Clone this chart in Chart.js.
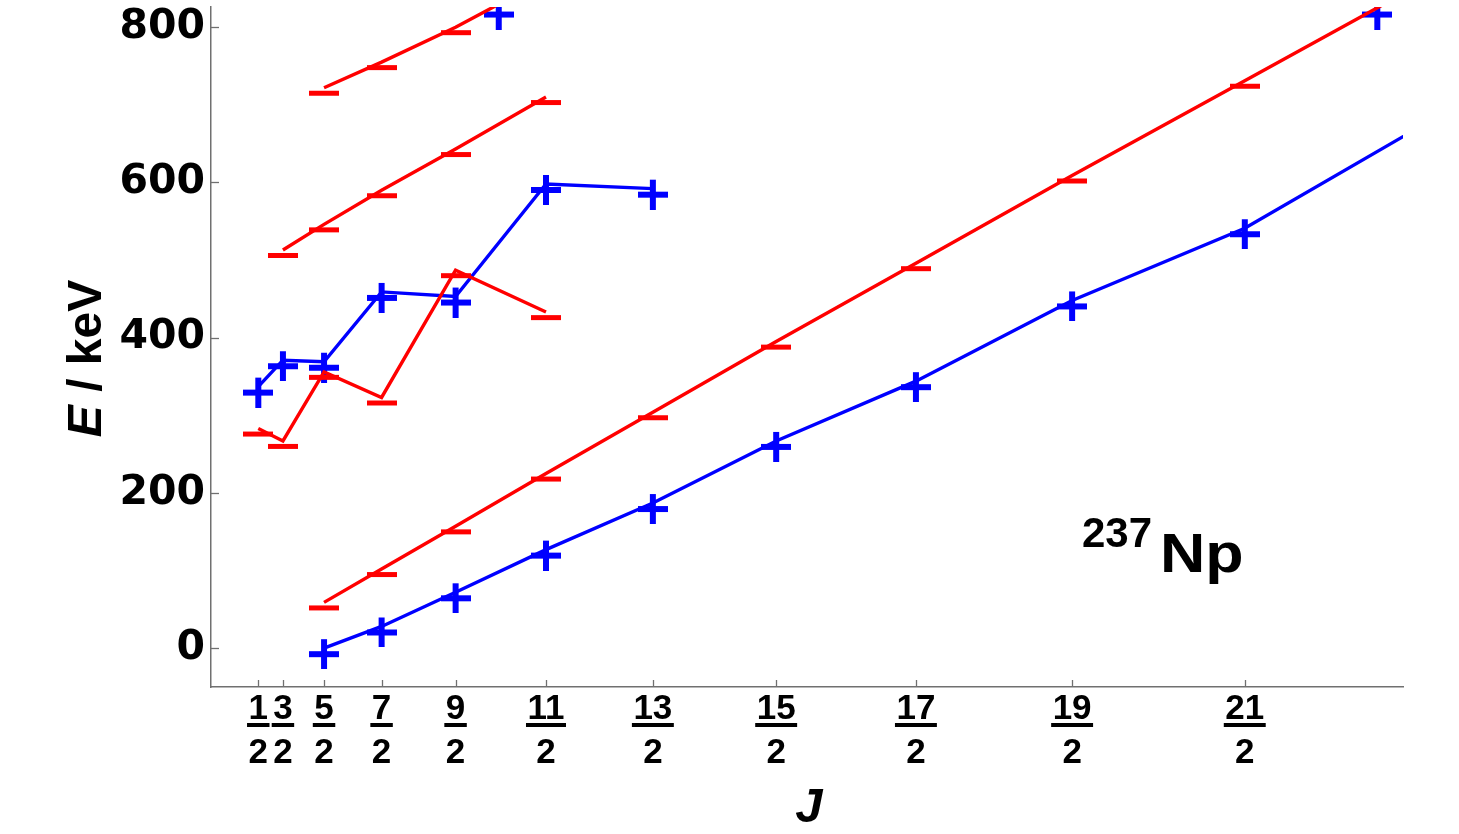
<!DOCTYPE html>
<html><head><meta charset="utf-8">
<script src="https://cdn.jsdelivr.net/npm/chart.js@4.4.1/dist/chart.umd.min.js"></script>
<style>html,body{margin:0;padding:0;background:#fff;}canvas{display:block;}</style>
</head><body>
<canvas id="c" width="1459" height="834"></canvas>
<script>
// ---------------- data (J given as 2J, energies in keV) ----------------
const xTickLabels = ['1/2','3/2','5/2','7/2','9/2','11/2','13/2','15/2','17/2','19/2','21/2'];
const yTickValues = [0, 200, 400, 600, 800];

const gsBandTwoJ   = [5, 7, 9, 11, 13, 15, 17, 19, 21, 23];
const gsBandE      = [0, 28, 72, 127, 187, 267, 344, 448, 541, 682];
const negBandTwoJ  = [5, 7, 9, 11, 13, 15, 17, 19, 21, 23];
const negBandE     = [59, 102, 157, 225, 304, 395, 496, 609, 731, 865];
const negBand2TwoJ = [3, 5, 7, 9, 11];
const negBand2E    = [513, 546, 590, 643, 710];
const negBand3TwoJ = [5, 7, 9, 11];
const negBand3E    = [722, 755, 800, 862];
const negBand4TwoJ = [1, 3, 5, 7, 9, 11];
const negBand4E    = [283, 267, 356, 323, 487, 433];
const posBand2TwoJ = [1, 3, 5, 7, 9, 11, 13];
const posBand2E    = [337, 371, 369, 459, 453, 598, 592];
const edgeMarkJ    = [5.0, 11.21];
const edgeMarkE    = [824, 824];

// ---------------- helpers ----------------
const jj = j => j * (j + 1);                       // axis variable J(J+1)
const pts = (twoJ, E) => twoJ.map((t, i) => ({x: jj(t / 2), y: E[i]}));
const tickJ = xTickLabels.map(s => { const [n, d] = s.split('/').map(Number); return n / d; });

const BLUE = '#0000ff', RED = '#ff0000';
function crossImg() {
  const c = document.createElement('canvas'); c.width = 30; c.height = 42;
  const g = c.getContext('2d'); g.fillStyle = BLUE;
  g.fillRect(0, 24, 30, 6); g.fillRect(12, 12, 6, 30);
  return c;
}
function dashImg() {
  const c = document.createElement('canvas'); c.width = 30; c.height = 22;
  const g = c.getContext('2d'); g.fillStyle = RED;
  g.fillRect(0, 14, 30, 5);
  return c;
}
const CROSS = crossImg(), DASH = dashImg();

function band(data, color, marker) {
  return {data, showLine: true, borderColor: color, backgroundColor: color, borderWidth: 3.4,
    pointStyle: marker, pointRadius: 15, pointHoverRadius: 15, clip: 0, tension: 0};
}

const datasets = [
  band(pts(negBand4TwoJ, negBand4E), RED, DASH),
  band(pts(negBand2TwoJ, negBand2E), RED, DASH),
  band(pts(negBand3TwoJ, negBand3E), RED, DASH),
  band(pts(negBandTwoJ, negBandE), RED, DASH),
  band(pts(posBand2TwoJ, posBand2E), BLUE, CROSS),
  band(pts(gsBandTwoJ, gsBandE), BLUE, CROSS),
  {data: edgeMarkJ.map((j, i) => ({x: jj(j), y: edgeMarkE[i]})), showLine: false,
   pointStyle: CROSS, pointRadius: 15, clip: 0}
];

const decor = {
  id: 'decor',
  afterDraw(chart) {
    const {ctx, chartArea: a, scales: {x, y}} = chart;
    ctx.save();
    // inward tick marks
    ctx.strokeStyle = '#707070'; ctx.lineWidth = 1.3;
    x.ticks.forEach(t => {
      const p = Math.round(x.getPixelForValue(t.value)) + 0.5;
      ctx.beginPath(); ctx.moveTo(p, a.bottom); ctx.lineTo(p, a.bottom - 7); ctx.stroke();
    });
    y.ticks.forEach(t => {
      const p = Math.round(y.getPixelForValue(t.value)) + 0.5;
      ctx.beginPath(); ctx.moveTo(a.left, p); ctx.lineTo(a.left + 8, p); ctx.stroke();
    });
    // fraction bars
    ctx.fillStyle = '#000';
    ctx.font = 'bold 35px "Liberation Sans", Arial, sans-serif';
    x.ticks.forEach((t, i) => {
      const num = xTickLabels[i].split('/')[0];
      const w = ctx.measureText(num).width + 3;
      const p = x.getPixelForValue(t.value);
      ctx.fillRect(p - w / 2, a.bottom + 36, w, 4);
    });
    // x-axis title
    ctx.font = 'italic bold 49px "Liberation Sans", Arial, sans-serif';
    ctx.textAlign = 'center'; ctx.textBaseline = 'alphabetic';
    ctx.fillText('J', (a.left + a.right) / 2 + 2, 822);
    // y-axis title (rotated)
    ctx.save();
    ctx.translate(101, 358.5); ctx.rotate(-Math.PI / 2);
    const f1 = 'italic bold 48px "Liberation Sans", Arial, sans-serif';
    const f2 = 'bold 48px "Liberation Sans", Arial, sans-serif';
    ctx.font = f1; const wE = ctx.measureText('E').width;
    ctx.font = f2; const wR = ctx.measureText(' / keV').width;
    const x0 = -(wE + wR) / 2;
    ctx.textAlign = 'left';
    ctx.font = f1; ctx.fillText('E', x0, 0);
    ctx.font = f2; ctx.fillText(' / keV', x0 + wE, 0);
    ctx.restore();
    // nucleus label
    ctx.textAlign = 'right';
    ctx.font = 'bold 42px "Liberation Sans", Arial, sans-serif';
    ctx.fillText('237', 1152, 547);
    ctx.save();
    ctx.translate(1160, 572); ctx.scale(1.12, 1);
    ctx.textAlign = 'left';
    ctx.font = 'bold 56px "Liberation Sans", Arial, sans-serif';
    ctx.fillText('Np', 0, 0);
    ctx.restore();
    ctx.restore();
  }
};

new Chart(document.getElementById('c'), {
  type: 'scatter',
  data: {datasets},
  options: {
    responsive: false, animation: false, events: [],
    layout: {autoPadding: false, padding: {top: 7, right: 56, left: 0, bottom: 0}},
    plugins: {legend: {display: false}, tooltip: {enabled: false}},
    scales: {
      x: {
        type: 'linear', min: -5, max: 140,
        afterBuildTicks: s => { s.ticks = tickJ.map(j => ({value: jj(j)})); },
        afterFit: s => { s.height = 147; s.paddingLeft = 0; s.paddingRight = 0; },
        grid: {display: true, drawOnChartArea: false, drawTicks: false},
        border: {display: true, color: '#707070', width: 1.5},
        ticks: {
          autoSkip: false, maxRotation: 0, minRotation: 0, padding: 0, color: '#000',
          font: {family: '"Liberation Sans", Arial, sans-serif', weight: 'bold', size: 35, lineHeight: 1.26},
          callback: (v, i) => xTickLabels[i].split('/')
        }
      },
      y: {
        type: 'linear', min: -50, max: 826,
        afterBuildTicks: s => { s.ticks = yTickValues.map(v => ({value: v})); },
        afterFit: s => { s.width = 211; s.paddingTop = 0; s.paddingBottom = 0; },
        grid: {display: true, drawOnChartArea: false, drawTicks: false},
        border: {display: true, color: '#707070', width: 1.5},
        ticks: {
          padding: 6, color: '#000',
          font: {family: '"DejaVu Sans", sans-serif', weight: 'bold', size: 41},
          callback: v => String(v)
        }
      }
    }
  },
  plugins: [decor]
});
</script>
</body></html>
